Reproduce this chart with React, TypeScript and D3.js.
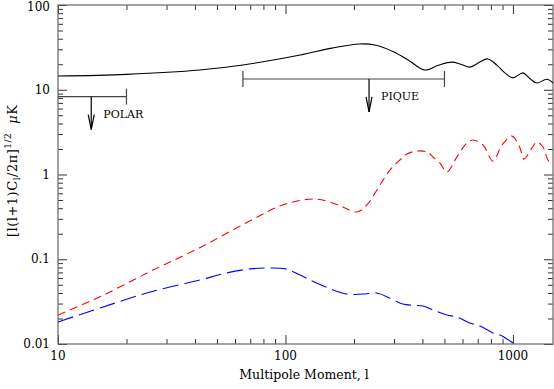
import React, { useRef, useEffect } from "react";
import * as d3 from "d3";

// multipole moment l and amplitude in microkelvin
const tempL = [10, 20, 42, 65, 116, 160, 212, 250, 300, 350, 410, 470, 539, 590, 647, 710, 776, 850, 930, 1000, 1107, 1190, 1273, 1409, 1500];
const tempV = [14.5, 15.2, 17.1, 19.6, 25.7, 31, 34.7, 33.5, 27.9, 22, 17.1, 19.5, 21.2, 20, 18.5, 21, 23.1, 19.5, 15.5, 13.8, 15.8, 13.5, 12.0, 13.3, 12];

const eL = [10, 15.3, 25.4, 42, 70, 97, 135, 170, 206, 230, 260, 288, 318, 342, 378, 419, 445, 477, 513, 567, 628, 667, 738, 817, 895, 990, 1074, 1117, 1213, 1273, 1355, 1439, 1500];
const eV = [0.022, 0.0361, 0.0716, 0.137, 0.285, 0.436, 0.514, 0.44, 0.361, 0.45, 0.75, 1.13, 1.48, 1.75, 1.89, 1.84, 1.61, 1.37, 1.07, 1.61, 2.36, 2.55, 2.23, 1.44, 2.23, 2.84, 2.06, 1.52, 2.06, 2.42, 2.11, 1.44, 1.52];

const bL = [10, 15.3, 25.4, 42, 55, 70, 81, 100, 116, 137, 186, 219, 252, 288, 328, 363, 402, 445, 513, 567, 647, 716, 817, 877, 1000, 1060];
const bV = [0.0182, 0.0266, 0.041, 0.0569, 0.0688, 0.077, 0.0787, 0.077, 0.065, 0.0525, 0.0389, 0.0389, 0.0399, 0.0346, 0.0296, 0.0286, 0.0281, 0.0252, 0.022, 0.0208, 0.0177, 0.0163, 0.0135, 0.0128, 0.0103, 0.0092];

// experiment sensitivity bars: name, l range, arrow l, level
const experiments = [
  { name: "POLAR", l0: 10, l1: 20, la: 14, v: 8.3 },
  { name: "PIQUE", l0: 65, l1: 500, la: 233, v: 13.4 },
];

const yMajor = [0.01, 0.1, 1, 10, 100];
const yMajorLabels = ["0.01", "0.1", "1", "10", "100"];
const xMajor = [10, 100, 1000];
const xMajorLabels = ["10", "100", "1000"];

const App = () => {
  const ref = useRef<SVGSVGElement>(null);

  useEffect(() => {
    const svg = d3.select(ref.current);
    svg.selectAll("*").remove();

    const margin = { top: 5, right: 1, bottom: 45, left: 58 };
    const W = 554;
    const H = 389;
    const width = W - margin.left - margin.right;
    const height = H - margin.top - margin.bottom;
    const font = "'DejaVu Serif', serif";

    svg.attr("width", W).attr("height", H);

    const x = d3.scaleLog().domain([10, 1500]).range([0, width]);
    const y = d3.scaleLog().domain([0.01, 100]).range([height, 0]);

    const g = svg
      .append("g")
      .attr("transform", `translate(${margin.left},${margin.top})`);

    g.append("clipPath")
      .attr("id", "plotclip")
      .append("rect")
      .attr("width", width)
      .attr("height", height);

    // minor tick values
    const yMinor: number[] = [];
    [0.01, 0.1, 1, 10].forEach((d) => {
      for (let k = 2; k <= 9; k++) yMinor.push(d * k);
    });
    const xMinor: number[] = [];
    [10, 100, 1000].forEach((d) => {
      for (let k = 2; k <= 9; k++) if (d * k <= 1500) xMinor.push(d * k);
    });

    const axisStyle = (sel: any) => {
      sel.select(".domain").remove();
      sel.selectAll("line").attr("stroke", "#333").attr("stroke-width", 1);
    };

    // ticks pointing inward on all four sides
    g.append("g").call(d3.axisLeft(y).tickValues(yMinor).tickSize(-5).tickFormat(() => "")).call(axisStyle);
    g.append("g").call(d3.axisLeft(y).tickValues(yMajor).tickSize(-9).tickFormat(() => "")).call(axisStyle);
    g.append("g").attr("transform", `translate(${width},0)`)
      .call(d3.axisRight(y).tickValues(yMinor).tickSize(-5).tickFormat(() => "")).call(axisStyle);
    g.append("g").attr("transform", `translate(${width},0)`)
      .call(d3.axisRight(y).tickValues(yMajor).tickSize(-9).tickFormat(() => "")).call(axisStyle);
    g.append("g").attr("transform", `translate(0,${height})`)
      .call(d3.axisBottom(x).tickValues(xMinor).tickSize(-5).tickFormat(() => "")).call(axisStyle);
    g.append("g").attr("transform", `translate(0,${height})`)
      .call(d3.axisBottom(x).tickValues(xMajor).tickSize(-9).tickFormat(() => "")).call(axisStyle);
    g.append("g")
      .call(d3.axisTop(x).tickValues(xMinor).tickSize(-5).tickFormat(() => "")).call(axisStyle);
    g.append("g")
      .call(d3.axisTop(x).tickValues(xMajor).tickSize(-9).tickFormat(() => "")).call(axisStyle);

    // frame
    g.append("rect")
      .attr("width", width)
      .attr("height", height)
      .attr("fill", "none")
      .attr("stroke", "#666")
      .attr("stroke-width", 1.2);

    // tick labels
    g.selectAll(".ylab")
      .data(yMajor)
      .enter()
      .append("text")
      .attr("x", -8)
      .attr("y", (d) => Math.max(y(d) + 4, 5.5))
      .attr("text-anchor", "end")
      .attr("font-family", font)
      .attr("font-size", 12)
      .text((d, i) => yMajorLabels[i]);

    g.selectAll(".xlab")
      .data(xMajor)
      .enter()
      .append("text")
      .attr("x", (d) => x(d))
      .attr("y", height + 16)
      .attr("text-anchor", "middle")
      .attr("font-family", font)
      .attr("font-size", 12)
      .text((d, i) => xMajorLabels[i]);

    g.append("text")
      .attr("x", 246)
      .attr("y", height + 35)
      .attr("text-anchor", "middle")
      .attr("font-family", font)
      .attr("font-size", 12.5)
      .text("Multipole Moment, l");

    const yl = svg
      .append("text")
      .attr("transform", "translate(17,237) rotate(-90)")
      .attr("font-family", font)
      .attr("font-size", 13)
      .attr("letter-spacing", 0.5);
    yl.append("tspan").text("[l(l+1)C");
    yl.append("tspan").attr("font-size", 9).attr("dy", 3).text("l");
    yl.append("tspan").attr("dy", -3).text("/2π]");
    yl.append("tspan").attr("font-size", 9).attr("dy", -6).text("1/2");
    yl.append("tspan").attr("dy", 6).attr("dx", 9).attr("font-style", "italic").text("μ");
    yl.append("tspan").text("K");

    // curves
    const line = (ls: number[], vs: number[]) =>
      d3
        .line<number>()
        .x((d, i) => x(ls[i]))
        .y((d) => y(d))
        .curve(d3.curveCatmullRom.alpha(0.5))(vs);

    const curves = g.append("g").attr("clip-path", "url(#plotclip)");
    curves.append("path")
      .attr("d", line(tempL, tempV))
      .attr("fill", "none")
      .attr("stroke", "#000")
      .attr("stroke-width", 1.1);
    curves.append("path")
      .attr("d", line(eL, eV))
      .attr("fill", "none")
      .attr("stroke", "#ff0000")
      .attr("stroke-width", 1.1)
      .attr("stroke-dasharray", "8,5");
    curves.append("path")
      .attr("d", line(bL, bV))
      .attr("fill", "none")
      .attr("stroke", "#0000ff")
      .attr("stroke-width", 1.1)
      .attr("stroke-dasharray", "16,6");

    // experiment limits
    experiments.forEach((e) => {
      const yy = y(e.v);
      const ex = g.append("g").attr("stroke", "#444").attr("stroke-width", 1.2);
      ex.append("line").attr("x1", x(e.l0)).attr("x2", x(e.l1)).attr("y1", yy).attr("y2", yy);
      if (e.l0 > 10)
        ex.append("line").attr("x1", x(e.l0)).attr("x2", x(e.l0)).attr("y1", yy - 8).attr("y2", yy + 8);
      ex.append("line").attr("x1", x(e.l1)).attr("x2", x(e.l1)).attr("y1", yy - 8).attr("y2", yy + 8);
      const ax = x(e.la);
      const tip = yy + 33;
      ex.append("line").attr("x1", ax).attr("x2", ax).attr("y1", yy).attr("y2", tip).attr("stroke", "#000");
      ex.append("path")
        .attr("d", `M${ax - 3},${tip - 15}L${ax},${tip}L${ax + 3},${tip - 15}`)
        .attr("fill", "none")
        .attr("stroke", "#000");
      g.append("text")
        .attr("x", ax + 12)
        .attr("y", yy + 21)
        .attr("font-family", font)
        .attr("font-size", 11)
        .text(e.name);
    });
  }, []);

  return (
    <svg
      ref={ref}
      style={{ display: "block", position: "absolute", left: 0, top: 0, background: "#fff" }}
    />
  );
};

export default App;
